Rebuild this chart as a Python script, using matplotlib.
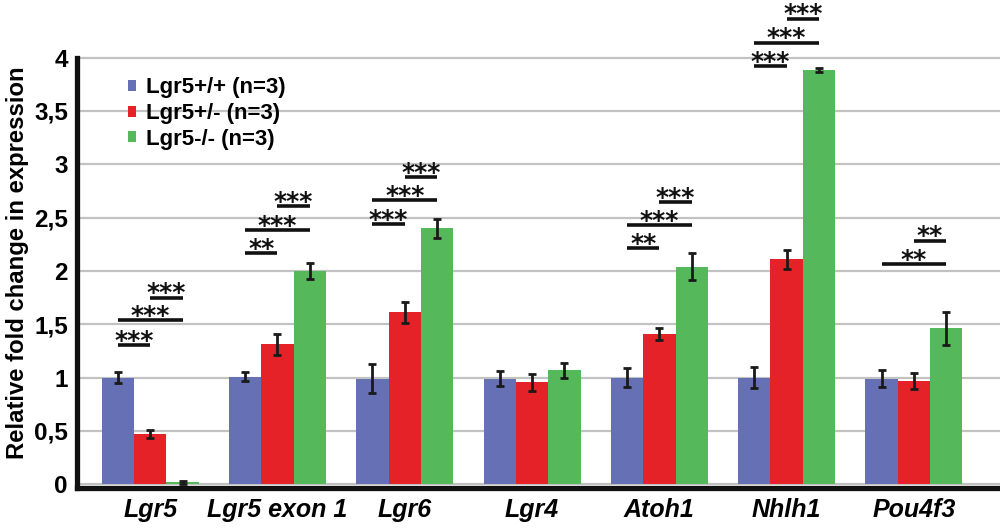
import matplotlib
matplotlib.use("Agg")
import matplotlib.pyplot as plt
from matplotlib.patches import Patch
import numpy as np

plt.rcParams['font.family'] = ['Liberation Sans', 'DejaVu Sans']

genes = ["Lgr5", "Lgr5 exon 1", "Lgr6", "Lgr4", "Atoh1", "Nhlh1", "Pou4f3"]
series_names = ["Lgr5+/+ (n=3)", "Lgr5+/- (n=3)", "Lgr5-/- (n=3)"]
wt_vals = [1.00, 1.01, 0.99, 0.99, 1.00, 1.00, 0.99]
wt_err = [0.05, 0.04, 0.135, 0.07, 0.09, 0.10, 0.08]
het_vals = [0.47, 1.31, 1.61, 0.955, 1.41, 2.11, 0.97]
het_err = [0.04, 0.10, 0.10, 0.08, 0.055, 0.09, 0.075]
ko_vals = [0.02, 2.00, 2.40, 1.07, 2.04, 3.88, 1.46]
ko_err = [0.015, 0.075, 0.09, 0.07, 0.13, 0.02, 0.155]
yticks = [0, 0.5, 1, 1.5, 2, 2.5, 3, 3.5, 4]
ytick_labels = ["0", "0,5", "1", "1,5", "2", "2,5", "3", "3,5", "4"]

# significance brackets: (gene index, from bar, to bar, height, label)
sig_gene = [0, 0, 0, 1, 1, 1, 2, 2, 2, 4, 4, 4, 5, 5, 5, 6, 6]
sig_from = [0, 0, 1, 0, 0, 1, 0, 0, 1, 0, 0, 1, 0, 0, 1, 0, 1]
sig_to = [1, 2, 2, 1, 2, 2, 1, 2, 2, 1, 2, 2, 1, 2, 2, 2, 2]
sig_y = [1.307, 1.535, 1.75, 2.163, 2.384, 2.606, 2.44, 2.66, 2.877,
         2.21, 2.43, 2.644, 3.92, 4.14, 4.364, 2.067, 2.283]
sig_text = ["***", "***", "***", "**", "***", "***", "***", "***", "***",
            "**", "***", "***", "***", "***", "***", "**", "**"]

colors = ["#6570b5", "#e52228", "#55b95b"]

fig = plt.figure(figsize=(10, 5.31), dpi=100)
ax = fig.add_axes([0.077, 0.081, 0.923, 0.919])

x = np.arange(len(genes))
w = 0.254
offsets = [-w, 0, w]
vals = [wt_vals, het_vals, ko_vals]
errs = [wt_err, het_err, ko_err]
for k in range(3):
    ax.bar(x + offsets[k], vals[k], width=w, color=colors[k], zorder=2,
           yerr=errs[k], error_kw=dict(ecolor="#1a1a1a", elinewidth=2.0,
                                       capsize=2.8, capthick=2.0, zorder=3))

for g, a, b, yv, t in zip(sig_gene, sig_from, sig_to, sig_y, sig_text):
    x0 = g + offsets[a]
    x1 = g + offsets[b]
    ax.plot([x0, x1], [yv, yv], color="#111111", lw=2.6,
            solid_capstyle="butt", zorder=4, clip_on=False)
    ax.annotate(t, xy=((x0 + x1) / 2, yv), xytext=(0, -2.0),
                textcoords="offset points", ha="center", va="baseline",
                fontsize=18, fontweight="bold", family="DejaVu Sans",
                color="#111111", zorder=4, annotation_clip=False)

ax.set_xlim(-0.575, 6.676)
ax.set_ylim(-0.035, 4.539)
ax.set_yticks(yticks)
ax.set_yticklabels(ytick_labels, fontsize=17.5, fontweight="bold")
ax.set_xticks(x)
ax.set_xticklabels(genes, fontsize=18, fontweight="bold", style="italic")
ax.tick_params(axis="both", length=0)
ax.tick_params(axis="y", pad=6.5)
ax.tick_params(axis="x", pad=7)

ax.yaxis.grid(True, color="#c2c2c2", lw=1.6, zorder=0)
ax.set_axisbelow(True)
for s in ["top", "right"]:
    ax.spines[s].set_visible(False)
ax.spines["left"].set_linewidth(3.8)
ax.spines["bottom"].set_linewidth(3.8)
ax.spines["left"].set_color("#111111")
ax.spines["bottom"].set_color("#111111")
ax.spines["left"].set_bounds(-0.035, 4.0)

ax.set_ylabel("Relative fold change in expression", fontsize=17.2,
              fontweight="bold")
ax.yaxis.set_label_coords(-0.052, 0.462)

handles = [Patch(facecolor=c, edgecolor="none") for c in colors]
ax.legend(handles, series_names, loc="upper left",
          bbox_to_anchor=(0.0553, 0.842), frameon=False,
          prop=dict(size=16, weight="bold"), handlelength=0.38,
          handleheight=0.38, handletextpad=0.42, labelspacing=0.22,
          borderpad=0, borderaxespad=0)

fig.savefig("out.png", dpi=100)
